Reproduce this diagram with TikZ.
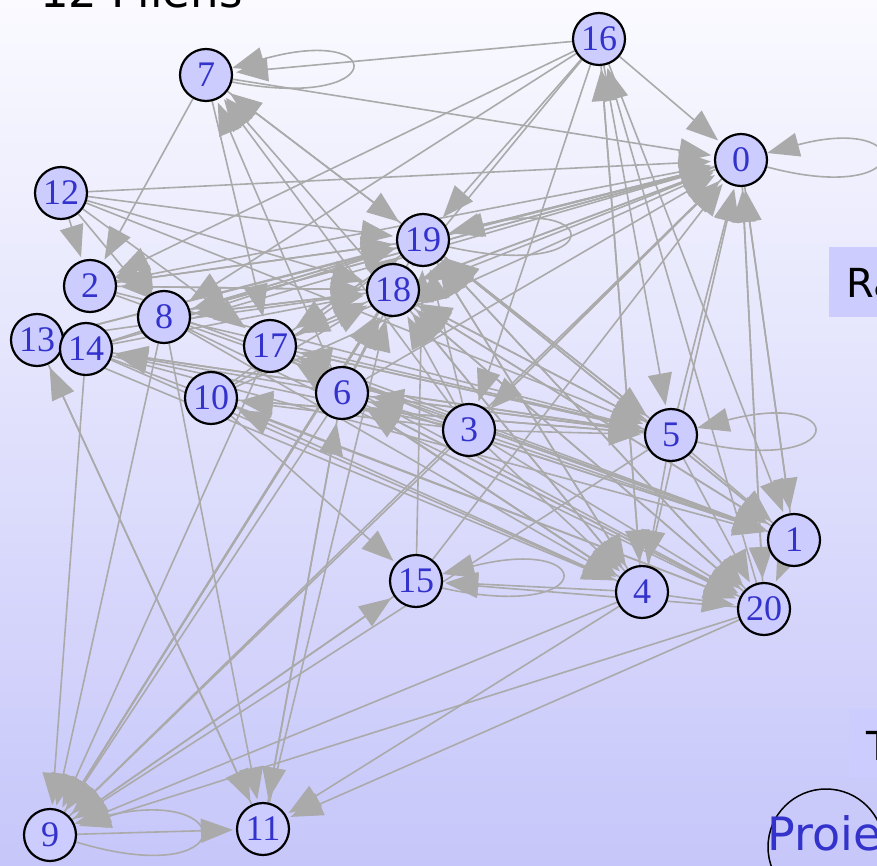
\documentclass[tikz,border=0pt]{standalone}
\usepackage{fontspec}
\setmainfont{Liberation Serif}
\newfontfamily\sansf{DejaVu Sans}
\usetikzlibrary{arrows.meta}
\definecolor{eg}{RGB}{170,170,170}
\definecolor{nfill}{RGB}{204,204,255}
\definecolor{ntext}{RGB}{51,51,204}
\definecolor{bgtop}{RGB}{250,250,255}
\definecolor{bgmid}{RGB}{238,238,253}
\definecolor{bgbot}{RGB}{198,198,250}
\pgfdeclarelayer{bg}
\pgfdeclarelayer{edges}
\pgfsetlayers{bg,edges,main}
\begin{document}
\begin{tikzpicture}[x=1pt,y=-1pt,
  vx/.style={circle,draw=black,line width=2.2pt,fill=nfill,minimum size=52pt,inner sep=0pt,text=ntext,font=\fontsize{36}{36}\selectfont},
  ed/.style={draw=eg,line width=1.6pt,shorten >=3pt,-{Triangle[length=32pt,width=24pt]}},
  lp/.style={draw=eg,line width=1.6pt,-{Triangle[length=32pt,width=24pt]}},
  lbl/.style={inner sep=0pt,anchor=base west}]
\useasboundingbox (0,0) rectangle (877,866);
\begin{pgfonlayer}{bg}
  \shade[top color=bgtop,middle color=bgmid,bottom color=bgbot] (0,0) rectangle (877,866);
  \fill[nfill] (829,247) rectangle (880,317);
  \fill[nfill] (849,709) rectangle (880,777);
\end{pgfonlayer}
% title and side labels
\node[lbl,font=\sansf\fontsize{45}{45}\selectfont] (title) at (40,8) {12 Pilens};
\node[lbl,font=\sansf\fontsize{40}{40}\selectfont] (ra) at (846,298) {Ra};
\node[lbl,font=\sansf\fontsize{40}{40}\selectfont] (tt) at (866,760) {T};
\node[draw=black,line width=1.5pt,circle,minimum size=116pt,inner sep=0pt] (proie) at (826,847) {};
\node[lbl,text=ntext,font=\sansf\fontsize{46}{46}\selectfont] (proietxt) at (767,850) {Proie};
% vertices
\node[vx] (n0) at (741,160) {0};
\node[vx] (n1) at (794,540) {1};
\node[vx] (n2) at (90,286) {2};
\node[vx] (n3) at (469,430) {3};
\node[vx] (n4) at (642,592) {4};
\node[vx] (n5) at (671,435) {5};
\node[vx] (n6) at (342,393) {6};
\node[vx] (n7) at (206,75) {7};
\node[vx] (n8) at (164,317) {8};
\node[vx] (n9) at (50,835) {9};
\node[vx] (n10) at (211,398) {10};
\node[vx] (n11) at (263,829) {11};
\node[vx] (n12) at (61,193) {12};
\node[vx] (n13) at (37,340) {13};
\node[vx] (n14) at (86,349) {14};
\node[vx] (n15) at (416,581) {15};
\node[vx] (n16) at (599,39) {16};
\node[vx] (n17) at (270,346) {17};
\node[vx] (n18) at (393,290) {18};
\node[vx] (n19) at (423,240) {19};
\node[vx] (n20) at (764,609) {20};
\begin{pgfonlayer}{edges}
\foreach \t/\srcs in {
  0/{16,7,12,2,8,19,18,17,6,14,9,15,3,10,5,4,20,1,13},
  1/{5,3,6,18,19,16,8,17,0,14,2},
  2/{12,7,18,19,16},
  3/{16,0},
  4/{5,3,18,19,6,17,8,16,13,14},
  5/{16,19,18,6,3,17,8,2,14,10,12},
  6/{3,5,4,20,1,11},
  7/{16,19,18,6,3},
  8/{18,19,0,12,16},
  9/{14,8,6,18,19,3,17,15,4,20,5},
  10/{3,5,4},
  11/{9,8,13,4,20,6},
  13/{11},
  14/{3,5,6},
  15/{10,9,4,20},
  16/{4,20},
  17/{18,19,6,3,7,12,5},
  18/{2,8,13,14,17,6,3,5,4,1,20,0,9,10,12,11,16},
  19/{16,7,12,2,8,14,17,10,6,3,5,1,20,4,0,9,15,13,18},
  20/{4,5,3,6,17,14,8,10,19,0,18,1}} {
  \foreach \s in \srcs {\draw[ed] (n\s) -- (n\t);}
}
% self loops
\draw[lp] (n7.-15) .. controls +(157,30) and +(157,-45) .. (n7.15);
\draw[lp] (n0.-15) .. controls +(150,40) and +(150,-40) .. (n0.15);
\draw[lp] (n19.-15) .. controls +(157,35) and +(157,-40) .. (n19.15);
\draw[lp] (n5.-15) .. controls +(153,35) and +(153,-40) .. (n5.15);
\draw[lp] (n15.-15) .. controls +(157,35) and +(157,-40) .. (n15.15);
\draw[lp] (n9.-15) .. controls +(165,50) and +(165,-40) .. (n9.25);
\end{pgfonlayer}
\end{tikzpicture}
\end{document}
